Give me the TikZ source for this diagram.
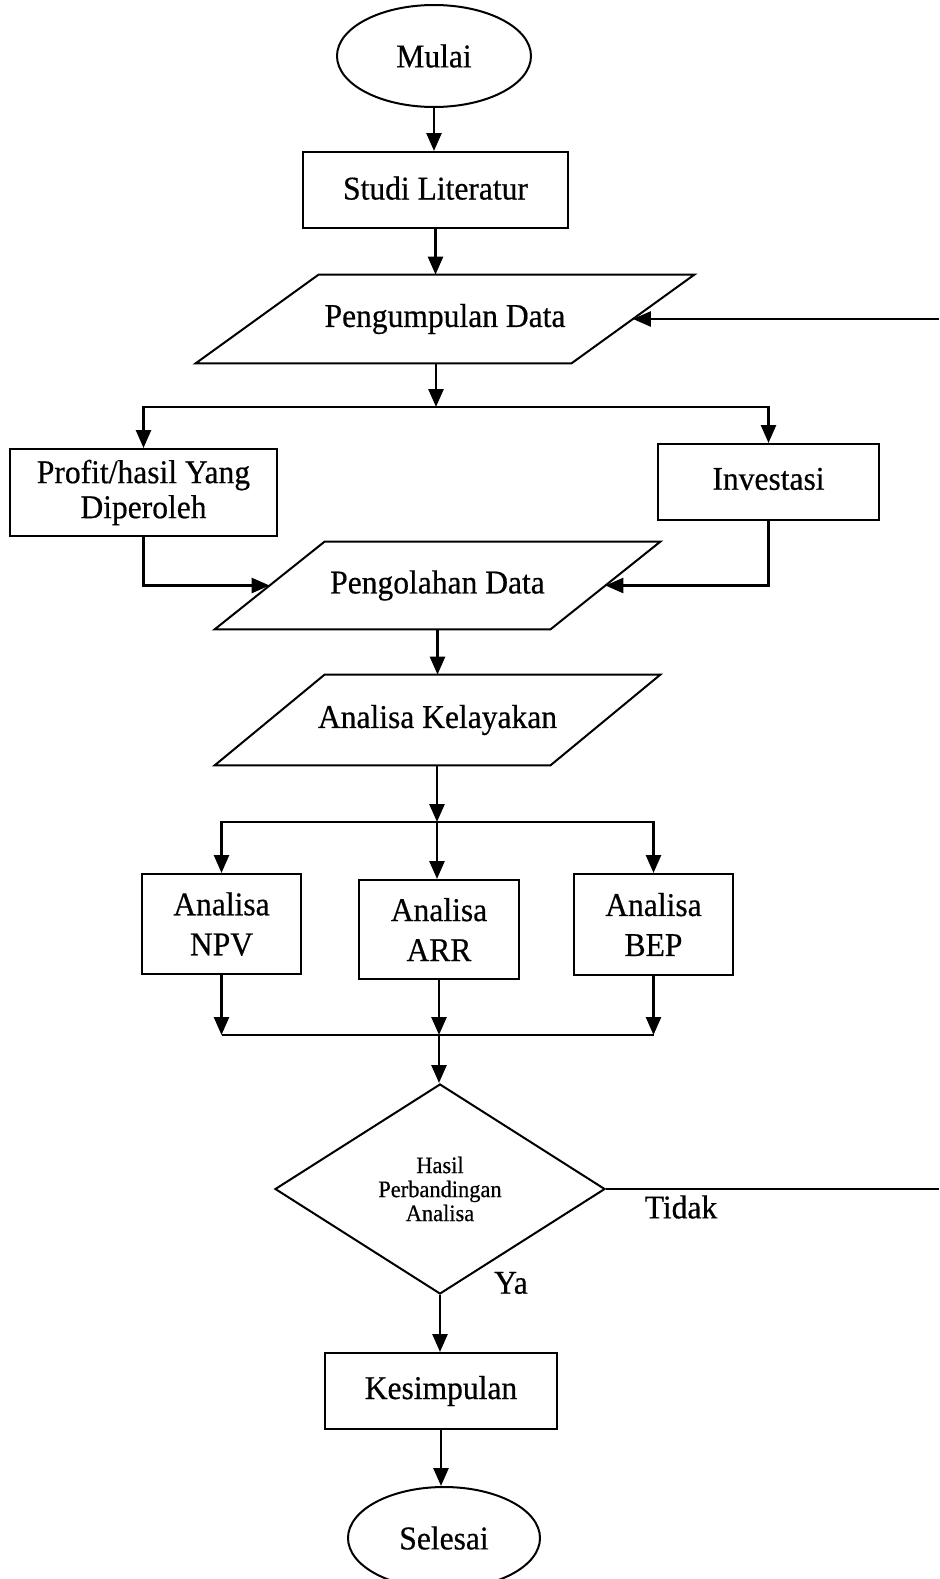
\documentclass[tikz,border=0pt]{standalone}
\usepackage{fontspec}
\setmainfont[FakeBold=0.5,FakeStretch=0.95]{Liberation Serif}
\usetikzlibrary{shapes.geometric,arrows.meta}

\begin{document}
\begin{tikzpicture}[x=0.5pt,y=-0.5pt,
  every node/.style={font=\fontsize{16.6pt}{19pt}\selectfont},
  box/.style={draw, line width=1pt, rectangle, inner sep=0pt, align=center},
  term/.style={draw, line width=1pt, ellipse, inner sep=0pt},
  para/.style={rectangle, inner sep=0pt, align=center},
  decision/.style={draw, line width=1pt, diamond, inner sep=0pt, aspect=1.57, align=center},
  conn/.style={line width=1.3pt},
  arr/.style={conn, -{Triangle[length=9pt,width=7.5pt]}},
  lbl/.style={inner sep=0pt},
  shapeline/.style={line width=1pt, line join=miter}
]
\clip (0,0) rectangle (939,1579);
\fill[white] (0,0) rectangle (939,1579);

% nodes
\node[term, minimum width=97pt, minimum height=51pt] (mulai) at (434,56) {Mulai};
\node[box, minimum width=132.5pt, minimum height=38pt] (studi) at (435.5,190) {\raisebox{2pt}{Studi Literatur}};
\node[para, minimum width=187.5pt, minimum height=44pt] (pd) at (445,319) {Pengumpulan Data};
\node[box, minimum width=133.5pt, minimum height=43.5pt, font=\fontsize{16.6pt}{17.5pt}\selectfont] (profit) at (143.5,492.5) {Profit/hasil Yang\\Diperoleh};
\node[box, minimum width=110.5pt, minimum height=38pt] (inv) at (768.5,482) {\raisebox{3.25pt}{Investasi}};
\node[para, minimum width=167.5pt, minimum height=43.5pt] (po) at (437.5,585.5) {Pengolahan Data};
\node[para, minimum width=167.5pt, minimum height=45pt] (ak) at (437.5,720) {Analisa Kelayakan};
\node[box, minimum width=79.5pt, minimum height=50pt, font=\fontsize{16.6pt}{20pt}\selectfont] (npv) at (221.5,924) {Analisa\\NPV};
\node[box, minimum width=80pt, minimum height=49.5pt, font=\fontsize{16.6pt}{20pt}\selectfont] (arrbox) at (439,929.5) {Analisa\\ARR};
\node[box, minimum width=79.5pt, minimum height=50.5pt, font=\fontsize{16.6pt}{20pt}\selectfont] (bep) at (653.5,924.5) {Analisa\\BEP};
\node[decision, minimum width=165pt, minimum height=105pt, font=\fontsize{11.8pt}{12pt}\selectfont] (dec) at (440,1189) {Hasil\\Perbandingan\\Analisa};
\node[box, minimum width=116pt, minimum height=38pt] (kes) at (441,1391) {Kesimpulan};
\node[term, minimum width=96pt, minimum height=51pt] (sel) at (444,1538) {Selesai};
\node[lbl] (tidak) at (681,1207) {Tidak};
\node[lbl] (ya) at (511,1283) {Ya};

% parallelogram outlines
\draw[shapeline] ([xshift=30.75pt]pd.north west) -- ([xshift=30.75pt]pd.north east) -- ([xshift=-30.75pt]pd.south east) -- ([xshift=-30.75pt]pd.south west) -- cycle;
\draw[shapeline] ([xshift=27.5pt]po.north west) -- ([xshift=27.5pt]po.north east) -- ([xshift=-27.5pt]po.south east) -- ([xshift=-27.5pt]po.south west) -- cycle;
\draw[shapeline] ([xshift=27.5pt]ak.north west) -- ([xshift=27.5pt]ak.north east) -- ([xshift=-27.5pt]ak.south east) -- ([xshift=-27.5pt]ak.south west) -- cycle;

% junctions
\coordinate (j1) at (436,407);
\coordinate (j2) at (437,822);
\coordinate (j3) at (439,1035);
\coordinate (rim) at (939,0);

% connectors
\draw[arr] (mulai.south) -- (mulai.south |- studi.north);
\draw[arr] (studi.south) -- (studi.south |- pd.north);
\draw[arr] (j1 |- pd.south) -- (j1);
\draw[arr] (j1) -| (profit.north);
\draw[arr] (j1) -| (inv.north);
\draw[arr] (profit.south) |- (po.west);
\draw[arr] (inv.south) |- (po.east);
\draw[arr] (po.south) -- (po.south |- ak.north);
\draw[arr] (j2 |- ak.south) -- (j2);
\draw[arr] (j2) -| (npv.north);
\draw[arr] (j2) -| (bep.north);
\draw[arr] (j2) -- (j2 |- arrbox.north);
\draw[arr] (npv.south) -- (npv.south |- j3);
\draw[arr] (arrbox.south) -- (arrbox.south |- j3);
\draw[arr] (bep.south) -- (bep.south |- j3);
\draw[conn] (npv.south |- j3) -- (bep.south |- j3);
\draw[arr] (j3) -- (j3 |- dec.north);
\draw[conn] (dec.east) -- (dec.east -| rim);
\draw[arr] (pd.east -| rim) -- (pd.east);
\draw[arr] (dec.south) -- (dec.south |- kes.north);
\draw[arr] (kes.south) -- (kes.south |- sel.north);
\end{tikzpicture}
\end{document}
